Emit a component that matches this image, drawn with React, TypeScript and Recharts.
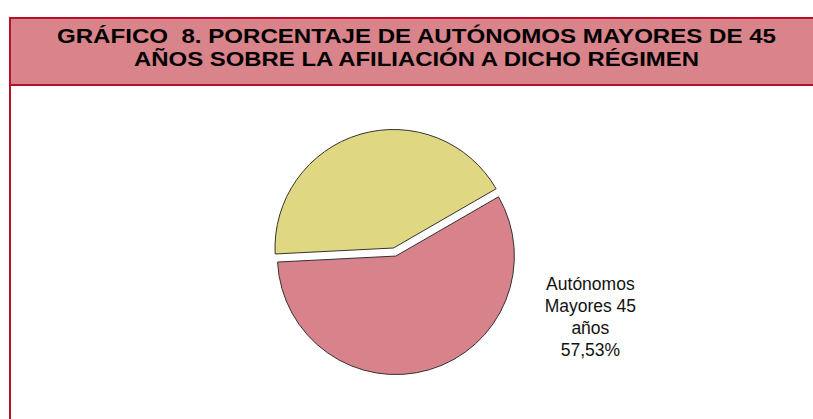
import { PieChart, Pie, Cell } from "recharts";

const categories = ["Autónomos Mayores 45 años", "Resto de autónomos"];
const shares = [57.53, 42.47];
const sliceColors = ["#D8838B", "#E0D782"];
const titleLines = [
    "GRÁFICO  8. PORCENTAJE DE AUTÓNOMOS MAYORES DE 45",
    "AÑOS SOBRE LA AFILIACIÓN A DICHO RÉGIMEN",
];
const titleWidths = [719, 565];
const labelLines = ["Autónomos", "Mayores 45", "años"];

const data = categories.map((name, i) => ({ name, value: shares[i] }));

const BORDER = "#B8102A";
const FONT = "'Liberation Sans', Arial, sans-serif";
const START = 30;
const R = 118.5;
const CX = 393.5;
const CY = 248;
const EXPLODE = 8.4;

// exploded slice moves out along its bisector
const midPink = START - ((shares[0] / 100) * 360) / 2;
const exCX = CX + EXPLODE * Math.cos((midPink * Math.PI) / 180);
const exCY = CY - EXPLODE * Math.sin((midPink * Math.PI) / 180);

const renderLabel = (props: any) => {
    if (props.index !== 0) return null;
    const x = props.cx + props.outerRadius + 76;
    const y = props.cy + 28;
    return (
        <text x={x} y={y} textAnchor="middle" fontFamily={FONT} fontSize={17.5} fill="#111">
            {labelLines.map((l, i) => (
                <tspan key={i} x={x} y={y + i * 22} dominantBaseline="central">{l}</tspan>
            ))}
            <tspan x={x} y={y + 3 * 22} dominantBaseline="central">
                {shares[0].toFixed(2).replace(".", ",")}%
            </tspan>
        </text>
    );
};

export default function App() {
    return (
        <div style={{ position: "absolute", left: 0, top: 0, width: 813, height: 419, overflow: "hidden", background: "#fff" }}>
            <div
                style={{
                    position: "absolute",
                    left: 9,
                    top: 17,
                    width: 840,
                    height: 440,
                    borderLeft: `2px solid ${BORDER}`,
                    borderTop: `2px solid ${BORDER}`,
                }}
            >
                <div style={{ height: 65, background: "#D9838B", borderBottom: `2px solid ${BORDER}` }} />
            </div>
            <svg width={813} height={100} style={{ position: "absolute", left: 0, top: 0 }}>
                {titleLines.map((t, i) => (
                    <text
                        key={i}
                        x={416.5}
                        y={42.5 + i * 23}
                        textAnchor="middle"
                        fontFamily={FONT}
                        fontWeight="bold"
                        fontSize={19.5}
                        fill="#000"
                        textLength={titleWidths[i]}
                        lengthAdjust="spacingAndGlyphs"
                        style={{ whiteSpace: "pre" }}
                    >
                        {t}
                    </text>
                ))}
            </svg>
            <div style={{ position: "absolute", left: 0, top: 0 }}>
                <PieChart width={813} height={419} margin={{ top: 0, right: 0, bottom: 0, left: 0 }}>
                    <Pie
                        data={data}
                        dataKey="value"
                        cx={CX}
                        cy={CY}
                        outerRadius={R}
                        startAngle={START}
                        endAngle={START - 360}
                        stroke="none"
                        isAnimationActive={false}
                    >
                        {data.map((_, i) => (
                            <Cell key={i} fill={i === 1 ? sliceColors[1] : "transparent"} stroke={i === 1 ? "#333" : "none"} strokeWidth={1} />
                        ))}
                    </Pie>
                    <Pie
                        data={data}
                        dataKey="value"
                        cx={exCX}
                        cy={exCY}
                        outerRadius={R}
                        startAngle={START}
                        endAngle={START - 360}
                        label={renderLabel}
                        labelLine={false}
                        isAnimationActive={false}
                    >
                        {data.map((_, i) => (
                            <Cell key={i} fill={i === 0 ? sliceColors[0] : "transparent"} stroke={i === 0 ? "#333" : "none"} strokeWidth={1} />
                        ))}
                    </Pie>
                </PieChart>
            </div>
        </div>
    );
}
